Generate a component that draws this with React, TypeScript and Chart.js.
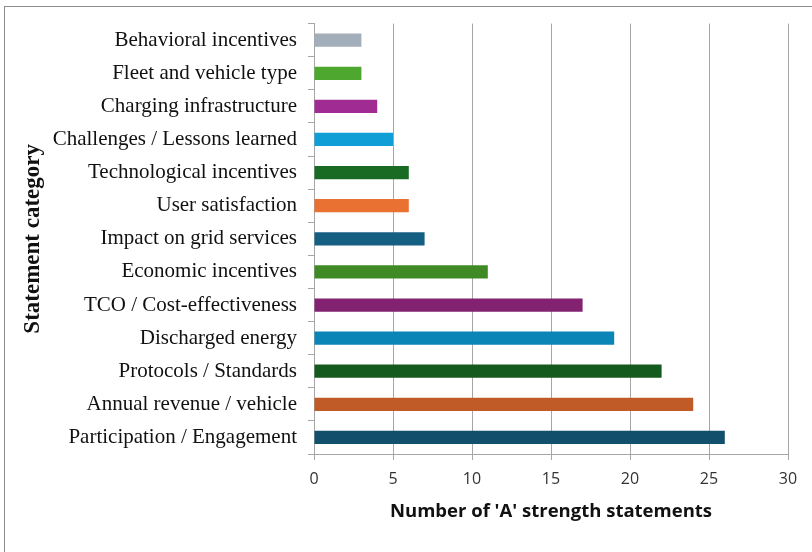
import React, { useEffect, useRef } from "react";
import { Chart, registerables } from "chart.js";

Chart.register(...registerables);

// Statement categories, top to bottom
const categories: string[] = [
  "Behavioral incentives",
  "Fleet and vehicle type",
  "Charging infrastructure",
  "Challenges / Lessons learned",
  "Technological incentives",
  "User satisfaction",
  "Impact on grid services",
  "Economic incentives",
  "TCO / Cost-effectiveness",
  "Discharged energy",
  "Protocols / Standards",
  "Annual revenue / vehicle",
  "Participation / Engagement",
];

// Number of 'A' strength statements per category
const counts: number[] = [3, 3, 4, 5, 6, 6, 7, 11, 17, 19, 22, 24, 26];

const barColors: string[] = [
  "#A2AEB9",
  "#4EA72E",
  "#A02B93",
  "#0F9ED5",
  "#196B24",
  "#E97132",
  "#156082",
  "#3F8A25",
  "#822271",
  "#0B85B5",
  "#145A1E",
  "#C05B28",
  "#114F6A",
];

const xTickValues: number[] = [0, 5, 10, 15, 20, 25, 30];

export default function App() {
  const canvasRef = useRef<HTMLCanvasElement | null>(null);

  useEffect(() => {
    const canvas = canvasRef.current;
    if (!canvas) return;
    const chart = new Chart(canvas, {
      type: "bar",
      data: {
        labels: categories,
        datasets: [
          {
            data: counts,
            backgroundColor: barColors,
            borderWidth: 0,
            barPercentage: 0.4,
            categoryPercentage: 1,
          },
        ],
      },
      options: {
        indexAxis: "y",
        animation: false,
        responsive: false,
        maintainAspectRatio: false,
        layout: { padding: { top: 22, right: 24, bottom: 0, left: 0 } },
        plugins: {
          legend: { display: false },
          tooltip: { enabled: false },
        },
        scales: {
          x: {
            min: 0,
            max: 30,
            afterBuildTicks: (scale: any) => {
              scale.ticks = xTickValues.map((v) => ({ value: v }));
            },
            afterFit: (scale: any) => {
              scale.height = 98;
            },
            ticks: {
              color: "#333333",
              font: { family: "'Open Sans', sans-serif", size: 16 },
              padding: 10,
            },
            grid: {
              color: "#a6a6a6",
              lineWidth: 1,
              drawTicks: true,
              tickLength: 6,
            },
            border: { color: "#a6a6a6", width: 1 },
            title: {
              display: true,
              text: "Number of 'A' strength statements",
              color: "#111111",
              font: { family: "'Open Sans', sans-serif", size: 18.5, weight: "bold" },
              padding: { top: 0, bottom: 29 },
            },
          },
          y: {
            afterFit: (scale: any) => {
              scale.width = 314;
            },
            ticks: {
              color: "#111111",
              font: { family: "'Liberation Serif', 'Times New Roman', serif", size: 21 },
              padding: 11,
              autoSkip: false,
            },
            grid: {
              offset: true,
              drawOnChartArea: false,
              drawTicks: true,
              tickLength: 6,
              color: "#a6a6a6",
            },
            border: { color: "#a6a6a6", width: 1 },
            title: {
              display: true,
              text: "Statement category",
              color: "#111111",
              font: { family: "'Liberation Serif', 'Times New Roman', serif", size: 23, weight: "bold" },
              padding: { top: 19, bottom: 0 },
            },
          },
        },
      },
    });
    return () => chart.destroy();
  }, []);

  return (
    <div
      style={{
        position: "fixed",
        left: 0,
        top: 0,
        width: 812,
        height: 552,
        overflow: "hidden",
        background: "#ffffff",
      }}
    >
      <div
        style={{
          position: "absolute",
          left: 4,
          top: 6,
          width: 830,
          height: 570,
          border: "1px solid #8c8c8c",
          boxSizing: "border-box",
        }}
      />
      <canvas
        ref={canvasRef}
        width={812}
        height={552}
        style={{ position: "absolute", left: 0, top: 0, width: 812, height: 552 }}
      />
    </div>
  );
}
